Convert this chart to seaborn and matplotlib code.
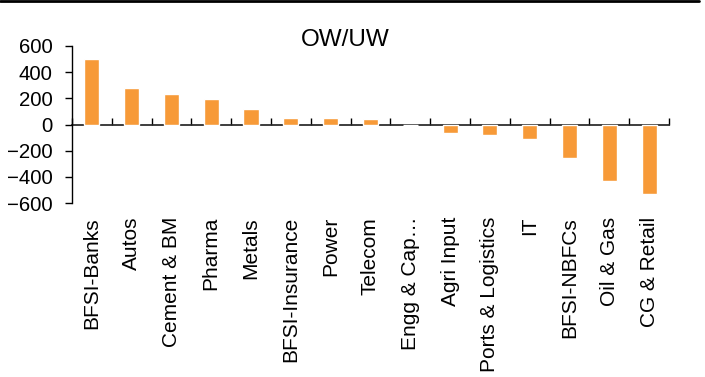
import numpy as np
import pandas as pd
import matplotlib
matplotlib.use("Agg")
import matplotlib.pyplot as plt
from matplotlib.lines import Line2D
import seaborn as sns

# Данные
sectors = ['BFSI-Banks', 'Autos', 'Cement & BM', 'Pharma', 'Metals', 'BFSI-Insurance',
           'Power', 'Telecom', 'Engg & Cap…', 'Agri Input', 'Ports & Logistics', 'IT',
           'BFSI-NBFCs', 'Oil & Gas', 'CG & Retail']
ow_uw = [498, 277, 236, 193, 120, 48, 46, 44, 0, -66, -84, -111, -253, -428, -530]

df = pd.DataFrame({'Сектор': sectors, 'OW/UW': ow_uw})

sns.set_theme(style='white')
plt.rcParams['font.family'] = ['Liberation Sans', 'DejaVu Sans']

fig = plt.figure(figsize=(7.05, 3.77), dpi=100)
ax = fig.add_axes([0.102, 0.4615, 0.847, 0.4165])

sns.barplot(data=df, x='Сектор', y='OW/UW', color='#F79A38', width=0.38,
            saturation=1, ax=ax)

ax.set_ylim(-600, 600)
ax.set_yticks(np.arange(-600, 601, 200))
ax.set_xlim(-0.5, len(sectors) - 0.5)
ax.set_xlabel('')
ax.set_ylabel('')

for s in ['top', 'right', 'bottom']:
    ax.spines[s].set_visible(False)
ax.spines['left'].set_color('black')
ax.spines['left'].set_linewidth(1)

ax.tick_params(axis='y', direction='out', length=5, width=1, color='black',
               labelsize=14.7, pad=9, left=True, labelcolor='black')
ax.tick_params(axis='x', length=0, labelsize=15, pad=10, labelcolor='black')
plt.setp(ax.get_xticklabels(), rotation=90, va='top', ha='center')

# Ось X на уровне нуля с делениями между категориями
sec = ax.secondary_xaxis(0.5)
sec.set_xticks(np.arange(-0.5, len(sectors), 1))
sec.set_xticklabels([])
sec.tick_params(direction='out', length=5, width=1, color='black')
sec.spines['bottom'].set_color('black')
sec.spines['bottom'].set_linewidth(1)

fig.text(0.49, 0.878, 'OW/UW', fontsize=17.5, ha='center', va='baseline', color='black')
fig.add_artist(Line2D([0, 0.992], [0.997, 0.997], color='black', lw=2))

plt.savefig('out.png', dpi=100)
